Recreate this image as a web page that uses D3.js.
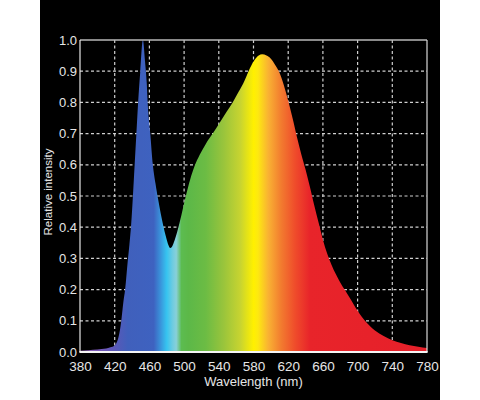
<!DOCTYPE html>
<html><head><meta charset="utf-8">
<script src="https://cdn.jsdelivr.net/npm/d3@7/dist/d3.min.js"></script>
<style>html,body{margin:0;padding:0;background:#fff;}svg{display:block;}</style>
</head><body>
<script>
// Spectrum data (wavelength nm, relative intensity)
const wavelengths = [380,390,400,410,415,420,423,426,428,430,432,435,437,439,441,443,445,447,449.5,452.5,455,457,458,461,464,467,470,473,476,479,482,484,486,488,492,497,502,507,512,518,525,533,541,549,556,563,568,572,576,581,586,590,595,600,605,610,615,620,625,630,635,640,645,650,655,660,665,670,675,680,685,690,695,700,705,710,715,720,730,740,750,760,770,780];
const intensity  = [0.004,0.006,0.008,0.011,0.015,0.022,0.035,0.07,0.11,0.16,0.2,0.29,0.345,0.41,0.5,0.6,0.7,0.8,0.9,1.0,0.93,0.86,0.8,0.7,0.6,0.54,0.49,0.445,0.405,0.37,0.342,0.333,0.337,0.35,0.385,0.44,0.5,0.553,0.595,0.632,0.667,0.70,0.735,0.77,0.80,0.835,0.86,0.885,0.91,0.935,0.95,0.954,0.95,0.94,0.92,0.895,0.855,0.805,0.75,0.69,0.635,0.585,0.53,0.47,0.415,0.36,0.315,0.279,0.249,0.223,0.2,0.178,0.155,0.132,0.112,0.095,0.081,0.069,0.051,0.038,0.029,0.022,0.017,0.013];

// Spectral colour stops
const stopWl     = [380,400,420,435,465,472,480,487,491,497,505,525,545,565,580,585,597,612,628,645,780];
const stopColors = ["#a070bc","#7a58b8","#5a58b8","#4060bc","#3e62c0","#3a8ed8","#36c4f0","#70cce0","#88d0d8","#5cbc50","#5cb848","#6cbc44","#98c43c","#c8d430","#fff000","#fde910","#f9b233","#f27b2f","#ef4c2b","#e8242a","#e6202a"];

const xTicks = [380,420,460,500,540,580,620,660,700,740,780];
const yTicks = [0,0.1,0.2,0.3,0.4,0.5,0.6,0.7,0.8,0.9,1.0];

const W = 480, H = 400;
const svg = d3.select("body").append("svg").attr("width", W).attr("height", H);
svg.append("rect").attr("x",40).attr("y",0).attr("width",400).attr("height",400).attr("fill","#000");

const x = d3.scaleLinear().domain([380,780]).range([80,427]);
const y = d3.scaleLinear().domain([0,1]).range([352,40]);

const grad = svg.append("defs").append("linearGradient")
  .attr("id","spec").attr("gradientUnits","userSpaceOnUse")
  .attr("x1", x(380)).attr("x2", x(780)).attr("y1",0).attr("y2",0);
stopWl.forEach((w,i)=>grad.append("stop").attr("offset",(w-380)/400).attr("stop-color",stopColors[i]));

// grid
const grid = svg.append("g").attr("stroke","#d0d0d0").attr("stroke-width",1.2).attr("stroke-dasharray","3,2.5");
xTicks.slice(1,-1).forEach(t=>grid.append("line").attr("x1",x(t)).attr("x2",x(t)).attr("y1",y(1)).attr("y2",y(0)));
yTicks.slice(1,-1).forEach(t=>grid.append("line").attr("x1",x(380)).attr("x2",x(780)).attr("y1",y(t)).attr("y2",y(t)));

// area
const data = wavelengths.map((w,i)=>({w, v:intensity[i]}));
const area = d3.area().x(d=>x(d.w)).y0(y(0)).y1(d=>y(d.v)).curve(d3.curveMonotoneX);
svg.append("path").datum(data).attr("d",area).attr("fill","url(#spec)");

// frame
svg.append("line").attr("x1",x(380)).attr("x2",x(780)).attr("y1",y(1)).attr("y2",y(1)).attr("stroke","#b8b8b8").attr("stroke-width",1.5);
svg.append("line").attr("x1",x(780)).attr("x2",x(780)).attr("y1",y(1)).attr("y2",y(0)).attr("stroke","#d8d8d8").attr("stroke-width",1.2);
svg.append("line").attr("x1",x(380)).attr("x2",x(380)).attr("y1",y(1)).attr("y2",y(0)).attr("stroke","#e8e8e8").attr("stroke-width",1.2);
svg.append("line").attr("x1",x(380)-0.6).attr("x2",x(780)+0.6).attr("y1",y(0)).attr("y2",y(0)).attr("stroke","#f4f4f4").attr("stroke-width",1.8);

// axes labels via d3 axes
const font = "'Liberation Sans', Arial, Helvetica, sans-serif";
const xAxis = svg.append("g").attr("transform",`translate(0,${y(0)})`)
  .call(d3.axisBottom(x).tickValues(xTicks).tickSize(0).tickPadding(9).tickFormat(d3.format("d")));
const yAxis = svg.append("g").attr("transform",`translate(${x(380)},0)`)
  .call(d3.axisLeft(y).tickValues(yTicks).tickSize(0).tickPadding(3).tickFormat(d3.format(".1f")));
[xAxis,yAxis].forEach(a=>{
  a.select(".domain").remove();
  a.selectAll("text").attr("fill","#e6e6e6").style("font-family",font);
});
xAxis.selectAll("text").style("font-size","13.5px");
yAxis.selectAll("text").style("font-size","13px");

svg.append("text").attr("x",(x(380)+x(780))/2).attr("y",385.5).attr("text-anchor","middle")
  .attr("fill","#e6e6e6").style("font-family",font).style("font-size","13px").text("Wavelength (nm)");
svg.append("text").attr("transform","translate(52,192) rotate(-90)").attr("text-anchor","middle")
  .attr("fill","#e6e6e6").style("font-family",font).style("font-size","11.5px").text("Relative intensity");
</script>
</body></html>
